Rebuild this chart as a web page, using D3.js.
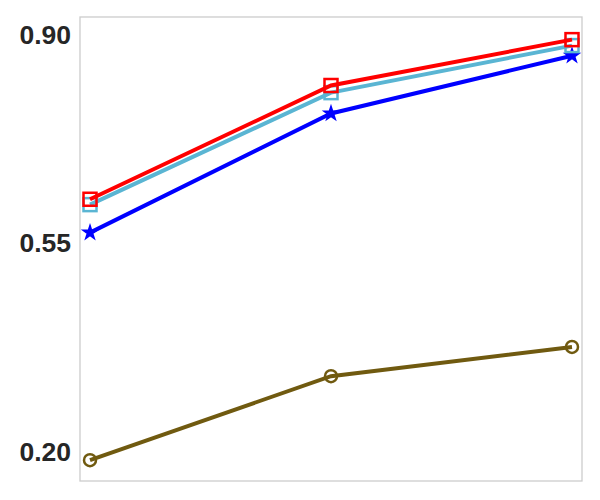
<!DOCTYPE html>
<html>
<head>
<meta charset="utf-8">
<script src="https://cdn.jsdelivr.net/npm/d3@7"></script>
<style>
  body { margin: 0; background: #fff; }
  .tick text { font-family: "Liberation Sans", Arial, sans-serif; font-weight: bold; font-size: 26.5px; fill: #262626; }
</style>
</head>
<body>
<svg id="chart"></svg>
<script>
// data
var categories = [0, 1, 2];
var yTicks = [0.20, 0.55, 0.90];
var oliveValues = [0.186, 0.327, 0.376];
var blueValues = [0.568, 0.768, 0.865];
var cyanValues = [0.615, 0.803, 0.882];
var redValues = [0.624, 0.815, 0.892];

var series = [
  {values: oliveValues, color: "#705a10", marker: "circle"},
  {values: blueValues, color: "#0000ff", marker: "star"},
  {values: cyanValues, color: "#5ab5d3", marker: "square"},
  {values: redValues, color: "#ff0000", marker: "square"}
];

var margin = {top: 17, right: 18, bottom: 19, left: 80},
    width = 600 - margin.left - margin.right,
    height = 500 - margin.top - margin.bottom;

var svg = d3.select("#chart").attr("width", 600).attr("height", 500)
    .append("g")
    .attr("transform", "translate(" + margin.left + "," + margin.top + ")");

var x = d3.scaleLinear().domain([-0.0415, 2.0415]).range([0, width]),
    y = d3.scaleLinear().domain([0.151, 0.930]).range([height, 0]);

// frame
svg.append("rect")
    .attr("width", width).attr("height", height)
    .attr("fill", "none").attr("stroke", "#cccccc").attr("stroke-width", 1.3);

// y axis
var yAxis = svg.append("g")
    .call(d3.axisLeft(y).tickValues(yTicks).tickFormat(d3.format(".2f")).tickSize(0).tickPadding(9));
yAxis.select(".domain").remove();

var line = d3.line()
    .x(function(d, i) { return x(categories[i]); })
    .y(function(d) { return y(d); });

series.forEach(function(s) {
  svg.append("path")
      .datum(s.values)
      .attr("fill", "none")
      .attr("stroke", s.color)
      .attr("stroke-width", 4)
      .attr("d", line);

  var pts = svg.selectAll(null)
      .data(s.values)
      .enter().append("g")
      .attr("transform", function(d, i) { return "translate(" + x(categories[i]) + "," + y(d) + ")"; });

  if (s.marker === "circle") {
    pts.append("circle").attr("r", 6)
        .attr("fill", "none").attr("stroke", s.color).attr("stroke-width", 2.5);
  } else if (s.marker === "square") {
    pts.append("rect").attr("x", -6.5).attr("y", -6.5).attr("width", 13).attr("height", 13)
        .attr("fill", "none").attr("stroke", s.color).attr("stroke-width", 2.5);
  } else {
    pts.append("path")
        .attr("d", d3.symbol().type(d3.symbolStar).size(60))
        .attr("fill", s.color).attr("stroke", s.color).attr("stroke-width", 1.5);
  }
});
</script>
</body>
</html>
